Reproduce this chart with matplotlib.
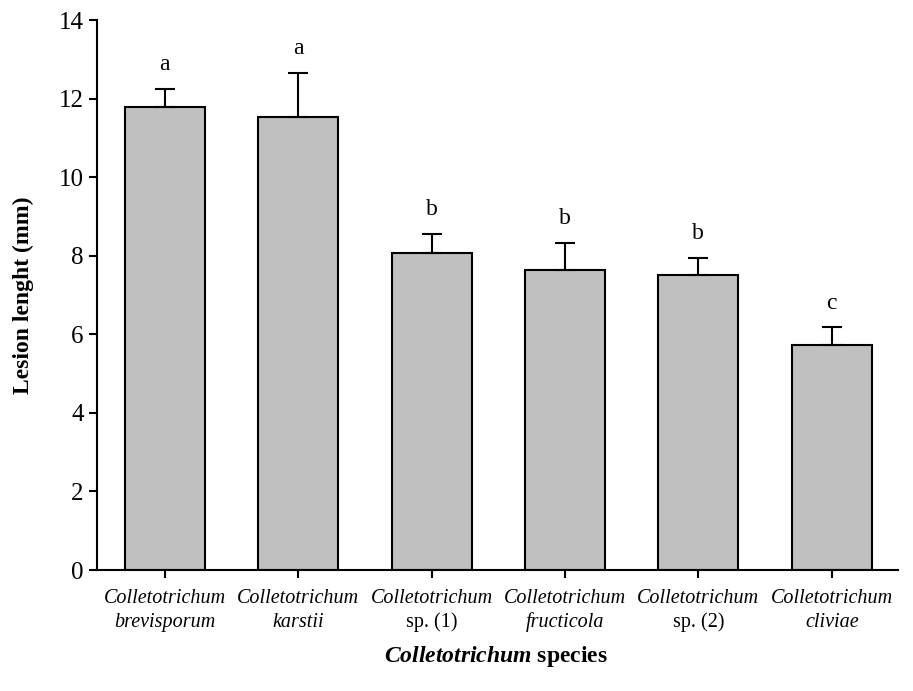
import numpy as np
import matplotlib.pyplot as plt

plt.rcParams['font.family'] = ['Liberation Serif', 'DejaVu Serif']
plt.rcParams['mathtext.fontset'] = 'custom'
plt.rcParams['mathtext.rm'] = 'Liberation Serif'
plt.rcParams['mathtext.it'] = 'Liberation Serif:italic'
plt.rcParams['mathtext.bf'] = 'Liberation Serif:bold'
plt.rcParams['mathtext.bfit'] = 'Liberation Serif:italic:bold'

# data
genus = 'Colletotrichum'
species = ['brevisporum', 'karstii', 'sp. (1)', 'fructicola', 'sp. (2)', 'cliviae']
lesion = [11.78, 11.53, 8.07, 7.65, 7.50, 5.72]
err = [0.46, 1.12, 0.48, 0.67, 0.45, 0.46]
letters = ['a', 'a', 'b', 'b', 'b', 'c']

fig = plt.figure(figsize=(9.13, 6.91), dpi=100)
ax = fig.add_axes([0.106, 0.175, 0.878, 0.796])

x = np.arange(len(species))
ax.bar(x, lesion, width=0.6, color='#c0c0c0', edgecolor='black', linewidth=1.5,
       yerr=[np.zeros(len(err)), err], capsize=7,
       error_kw=dict(elinewidth=1.5, capthick=1.5, ecolor='black'))

for xi, v, e, l in zip(x, lesion, err, letters):
    ax.text(xi, v + e + 0.35, l, ha='center', va='bottom', fontsize=17)

ax.set_xlim(-0.51, 5.5)
ax.set_ylim(0, 14)
ax.set_yticks(range(0, 15, 2))
ax.set_xticks(x)
ax.set_xticklabels([])
ax.tick_params(axis='y', labelsize=18, width=1.5, length=6, direction='out')
ax.tick_params(axis='x', width=1.5, length=6, direction='out')

# two-line tick labels, drawn on a common baseline
for xi, s in zip(x, species):
    ax.annotate(genus, (xi, 0), xycoords=('data', 'axes fraction'),
                xytext=(0, -24), textcoords='offset points',
                ha='center', va='baseline', fontsize=14.5, style='italic')
    ax.annotate(s, (xi, 0), xycoords=('data', 'axes fraction'),
                xytext=(0, -41), textcoords='offset points',
                ha='center', va='baseline', fontsize=14.5,
                style='normal' if s.startswith('sp.') else 'italic')

ax.spines['top'].set_visible(False)
ax.spines['right'].set_visible(False)
ax.spines['left'].set_linewidth(1.5)
ax.spines['bottom'].set_linewidth(1.5)

ax.set_ylabel('Lesion lenght (mm)', fontsize=17, fontweight='bold', labelpad=18)
fig.text(0.543, 0.042, r'$\mathbfit{Colletotrichum}$ species', ha='center', va='baseline',
         fontsize=17, fontweight='bold')

fig.savefig('out.png', dpi=100)
